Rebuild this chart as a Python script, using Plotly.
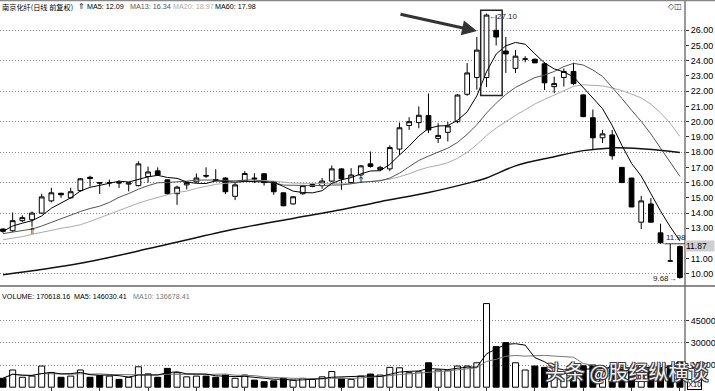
import plotly.graph_objects as go
import pandas as pd

# ---------------- data ----------------
opens = [12.95, 12.84, 13.5, 13.56, 14.0, 14.8, 15.3, 15.0, 15.47, 16.35,
         16.0, 15.98, 16.0, 15.9, 15.8, 16.4, 16.77, 16.18, 15.27, 15.85,
         16.05, 16.47, 16.2, 16.3, 15.1, 16.1, 16.3, 16.58, 16.05, 15.33,
         14.6, 15.27, 15.75, 15.8, 16.1, 16.9, 16.0, 16.5, 17.23, 16.85,
         16.9, 18.2, 19.75, 19.94, 20.4, 18.9, 19.3, 20.0, 21.8, 22.9,
         22.9, 26.0, 24.64, 23.5, 24.1, 24.1, 23.8, 22.3, 22.9, 23.3,
         21.76, 20.26, 18.94, 19.13, 17.0, 16.3, 13.4, 14.6, 12.7, 10.86, 11.8]
closes = [12.8, 13.5, 13.7, 14.0, 15.06, 15.33, 15.2, 15.4, 16.25, 16.27,
          15.97, 16.0, 15.98, 15.98, 17.23, 16.7, 16.5, 15.27, 15.7, 16.0,
          16.3, 16.43, 16.15, 15.4, 15.85, 16.6, 16.25, 16.0, 15.4, 14.48,
          15.07, 15.8, 15.88, 16.1, 16.9, 16.25, 16.5, 17.1, 17.06, 17.0,
          18.3, 19.6, 20.0, 20.42, 19.46, 19.1, 19.72, 21.75, 23.2, 24.7,
          27.0, 25.56, 24.45, 24.3, 24.12, 23.86, 22.55, 22.5, 23.3, 22.5,
          20.33, 18.94, 19.2, 17.76, 16.0, 14.4, 14.8, 13.4, 12.05, 10.85, 9.77]
highs = [13.0, 14.04, 13.85, 14.1, 15.27, 15.66, 15.33, 15.66, 16.3, 16.45,
         16.02, 16.2, 16.15, 16.0, 17.4, 17.05, 17.0, 16.2, 15.8, 16.05,
         16.6, 17.0, 16.88, 16.35, 16.0, 16.75, 16.62, 16.6, 16.05, 15.35,
         15.1, 15.85, 15.95, 16.3, 17.12, 16.95, 16.95, 17.15, 18.04, 17.1,
         18.45, 19.94, 20.29, 21.0, 21.85, 19.9, 19.98, 21.8, 23.85, 25.56,
         27.1, 27.0, 25.56, 24.7, 24.3, 24.15, 23.9, 22.96, 23.5, 23.87,
         21.8, 20.8, 19.46, 19.46, 17.0, 16.3, 15.13, 14.98, 13.3, 11.98, 11.87]
lows = [12.7, 12.75, 13.4, 13.1, 13.95, 14.7, 15.0, 14.95, 15.4, 15.74,
        15.25, 15.74, 15.65, 15.42, 15.75, 16.0, 16.45, 15.2, 14.54, 15.55,
        16.0, 16.3, 16.07, 15.25, 14.85, 16.05, 15.97, 15.8, 15.2, 14.45,
        14.55, 15.2, 15.7, 15.6, 16.05, 15.53, 15.95, 16.4, 16.98, 16.75,
        16.75, 17.82, 19.46, 19.57, 19.25, 18.6, 18.7, 19.9, 21.7, 22.1,
        22.27, 25.0, 23.2, 23.2, 23.9, 23.85, 22.08, 21.87, 22.3, 22.4,
        20.3, 18.15, 18.6, 17.5, 16.0, 14.4, 12.95, 13.4, 12.0, 10.84, 9.68]
volumes = [6000, 11600, 6700, 7500, 14300, 9800, 6700, 7500, 11600, 6700,
           7800, 7500, 5300, 6700, 13800, 9000, 6700, 12700, 9800, 7000,
           7500, 7500, 6700, 8200, 6000, 8200, 4800, 3700, 4300, 6000,
           4800, 6000, 5300, 7000, 10600, 6000, 5300, 7500, 8900, 8200,
           13400, 13100, 9800, 10400, 16500, 11600, 11100, 14300, 14300, 16500,
           56500, 27400, 30100, 16500, 11600, 14300, 13400, 9800, 9300, 13500,
           14500, 15000, 10500, 14000, 12000, 12163, 15500, 13500, 12500, 14453, 17062]

# moving-average values that depend on bars before the visible window
ma13_head = [12.65, 12.75, 12.85, 12.95, 13.15, 13.4, 13.6, 13.85, 14.1, 14.3, 14.45, 14.7]
ma20_head = [12.25, 12.35, 12.45, 12.6, 12.75, 12.9, 13.0, 13.1, 13.23, 13.45,
             13.7, 13.95, 14.2, 14.45, 14.65, 14.85, 15.05, 15.2, 15.35]
ma60_idx = [0, 8, 16, 24, 30, 34, 39, 44, 48, 50, 53, 57, 60, 63, 66, 70]
ma60_val = [9.95, 10.7, 11.8, 12.95, 13.65, 14.1, 14.75, 15.35, 15.95, 16.3,
            17.1, 17.7, 18.1, 18.28, 18.22, 17.98]

price_ticks = list(range(10, 27))
hidden_tick = 12          # covered by the last-price tag in the reference
grid_ticks = list(range(10, 27, 2))
vol_ticks = [15000, 30000, 45000]
signal_idx = [3, 37]

title_name = "南京化纤(日线 前复权)"
title_ma = ["MA5: 12.09", "MA13: 16.34", "MA20: 18.97", "MA60: 17.98"]
vol_header = ["VOLUME: 170618.16", "MA5: 146030.41", "MA10: 136678.41"]
watermark = "头条 @股经纵横谈"

# ---------------- derived series ----------------
n = len(closes)
idx = list(range(n))
s = pd.Series(closes)
ma5 = s.rolling(5, min_periods=1).mean().tolist()
ma13 = ma13_head + s.rolling(13).mean().tolist()[len(ma13_head):]
ma20 = ma20_head + s.rolling(20).mean().tolist()[len(ma20_head):]
v = pd.Series(volumes)
vma5 = v.rolling(5, min_periods=1).mean().tolist()
vma10 = v.rolling(10, min_periods=1).mean().tolist()
vol_fill = ['white' if c >= o else 'black' for o, c in zip(opens, closes)]

# ---------------- layout geometry (pixels) ----------------
W, H = 715, 391
PR = 685            # right edge of plot area
PX_PER = 15.23      # px per price unit
Y26 = 30.3          # pixel row of 26.00


def price_at(py):
    return 26 - (py - Y26) / PX_PER


VZ = 387.2          # pixel row of volume 0
VPX = 22.2 / 15000  # px per volume unit


def vol_at(py):
    return (VZ - py) / VPX


def fx(px):
    return px / PR


def fy(py):
    return 1 - py / H


P_TOP, P_BOT = 1, 285
V_TOP, V_BOT = 287, 391
FONT = "Liberation Sans, Arial, sans-serif"
CJK = "Noto Sans CJK SC, sans-serif"
GRID = '1px,2px'

fig = go.Figure()

fig.add_trace(go.Candlestick(
    x=idx, open=opens, high=highs, low=lows, close=closes,
    increasing=dict(line=dict(color='black', width=1), fillcolor='white'),
    decreasing=dict(line=dict(color='black', width=1), fillcolor='black'),
    whiskerwidth=0, xaxis='x', yaxis='y', showlegend=False, hoverinfo='skip'))

fig.add_trace(go.Scatter(x=idx, y=ma20, mode='lines', line=dict(color='#ababab', width=1),
                         xaxis='x', yaxis='y3', showlegend=False, hoverinfo='skip'))
fig.add_trace(go.Scatter(x=idx, y=ma13, mode='lines', line=dict(color='#555555', width=1),
                         xaxis='x', yaxis='y3', showlegend=False, hoverinfo='skip'))
fig.add_trace(go.Scatter(x=ma60_idx, y=ma60_val, mode='lines', line=dict(color='#111111', width=1.5, shape='spline'),
                         xaxis='x', yaxis='y3', showlegend=False, hoverinfo='skip'))
fig.add_trace(go.Scatter(x=idx, y=ma5, mode='lines', line=dict(color='#000000', width=1),
                         xaxis='x', yaxis='y3', showlegend=False, hoverinfo='skip'))
fig.add_trace(go.Scatter(x=signal_idx, y=[lows[i] for i in signal_idx], mode='text', text=['⇑'] * len(signal_idx),
                         textposition='bottom center', textfont=dict(size=9, color='black', family='DejaVu Sans'),
                         xaxis='x', yaxis='y3', showlegend=False, hoverinfo='skip'))

fig.add_trace(go.Bar(x=idx, y=volumes, width=0.62, marker=dict(color=vol_fill, line=dict(color='black', width=1)),
                     xaxis='x2', yaxis='y2', showlegend=False, hoverinfo='skip'))
fig.add_trace(go.Scatter(x=idx, y=vma10, mode='lines', line=dict(color='#777777', width=1),
                         xaxis='x2', yaxis='y2', showlegend=False, hoverinfo='skip'))
fig.add_trace(go.Scatter(x=idx, y=vma5, mode='lines', line=dict(color='#000000', width=1),
                         xaxis='x2', yaxis='y2', showlegend=False, hoverinfo='skip'))

x_rng = [-3 / 9.67, (PR - 3) / 9.67]
p_rng = [price_at(P_BOT), price_at(P_TOP)]
v_rng = [vol_at(V_BOT), vol_at(V_TOP)]

tickfont = dict(family=FONT, size=9, color='black')
fig.update_layout(
    template='none',
    width=W, height=H, margin=dict(l=0, r=W - PR, t=0, b=0, pad=0),
    paper_bgcolor='white', plot_bgcolor='white', showlegend=False,
    xaxis=dict(domain=[0, 1], range=x_rng, anchor='y', showticklabels=False, ticks='', showgrid=False,
               zeroline=False, showline=False, rangeslider=dict(visible=False), automargin=False),
    yaxis=dict(domain=[fy(P_BOT), fy(P_TOP)], range=p_rng, anchor='x', side='right',
               tickvals=price_ticks,
               ticktext=['' if t == hidden_tick else '%.2f' % t for t in price_ticks],
               ticks='outside', ticklen=3, tickcolor='#333', showgrid=False, zeroline=False, showline=False,
               tickfont=tickfont, automargin=False),
    yaxis3=dict(overlaying='y', anchor='x', side='right', range=p_rng, tickvals=grid_ticks,
                showticklabels=False, ticks='', showgrid=True, gridcolor='#8a8a8a', griddash=GRID,
                gridwidth=1, zeroline=False, showline=False, automargin=False),
    xaxis2=dict(domain=[0, 1], range=x_rng, anchor='y2', showticklabels=False, ticks='inside', ticklen=3,
                tickvals=list(range(5, n, 5)), tickcolor='#333', showgrid=False, zeroline=False,
                showline=False, automargin=False),
    yaxis2=dict(domain=[fy(V_BOT), fy(V_TOP)], range=v_rng, anchor='x2', side='right',
                tickvals=vol_ticks, ticktext=[str(t) for t in vol_ticks], ticks='outside', ticklen=3,
                tickcolor='#333', showgrid=True, gridcolor='#8a8a8a', griddash=GRID, zeroline=False,
                showline=False, tickfont=tickfont, automargin=False),
)

shapes = [
    dict(type='line', xref='paper', yref='paper', x0=1, x1=1, y0=0, y1=1, line=dict(color='#333', width=1)),
    dict(type='line', xref='paper', yref='paper', x0=0, x1=W / PR, y0=fy(286), y1=fy(286),
         line=dict(color='#666', width=1.5)),
    dict(type='line', xref='paper', yref='paper', x0=0, x1=W / PR, y0=fy(0.5), y1=fy(0.5),
         line=dict(color='#888', width=1.5)),
    dict(type='rect', xref='x', yref='y', x0=50 - 0.6, x1=51 + 0.62,
         y0=min(lows[50:52]) - 0.55, y1=max(highs[50:52]) + 0.22, line=dict(color='#222', width=1.5)),
]
fig.update_layout(shapes=shapes)

ann = []
HF = 7.2
ann.append(dict(xref='paper', yref='paper', x=fx(0), y=fy(7), xanchor='left', yanchor='middle',
                text=title_name, showarrow=False, font=dict(family=CJK, size=7.2, color='black')))
ann.append(dict(xref='paper', yref='paper', x=fx(76), y=fy(6), xanchor='left', yanchor='middle',
                text='⇑', showarrow=False, font=dict(family='DejaVu Sans', size=8, color='black')))
ma_cols = ['#000000', '#555555', '#ababab', '#000000']
ma_x = [85, 128, 171, 213]
for t, c, xx in zip(title_ma, ma_cols, ma_x):
    ann.append(dict(xref='paper', yref='paper', x=fx(xx), y=fy(7), xanchor='left', yanchor='middle',
                    text=t, showarrow=False, font=dict(family=FONT, size=HF, color=c)))
for t, c, xx in zip(vol_header, ['#000', '#000', '#777'], [0, 72, 131]):
    ann.append(dict(xref='paper', yref='paper', x=fx(xx), y=fy(296), xanchor='left', yanchor='middle',
                    text=t, showarrow=False, font=dict(family=FONT, size=HF, color=c)))

# high / low markers
imax = max(range(n), key=lambda i: highs[i])
imin = min(range(n), key=lambda i: lows[i])
ann.append(dict(xref='x', yref='y', x=imax, y=highs[imax], xanchor='left', yanchor='middle', xshift=0, yshift=-3,
                text='←%.2f' % highs[imax], showarrow=False, font=dict(family=FONT, size=8, color='#222')))
ann.append(dict(xref='x', yref='y', x=imin, y=lows[imin], xanchor='right', yanchor='middle', xshift=-1,
                text='%.2f→' % lows[imin], showarrow=False, font=dict(family=FONT, size=8, color='#222')))
ann.append(dict(xref='x', yref='y', x=n - 2, y=highs[n - 2], xanchor='left', yanchor='bottom', xshift=-6,
                text='%.2f' % highs[n - 2], showarrow=False, font=dict(family=FONT, size=8, color='#222')))
fig.add_shape(type='line', xref='x', yref='y', x0=n - 2 - 0.6, x1=n - 1 + 0.5, y0=highs[n - 2], y1=highs[n - 2],
              line=dict(color='#444', width=1))
# last price tag on axis
ann.append(dict(xref='paper', yref='y', x=1, y=highs[-1], xanchor='left', yanchor='middle',
                text='%.2f   ' % highs[-1], showarrow=False, bgcolor='#cfcfcf', borderpad=0,
                font=dict(family=FONT, size=8.5, color='black')))
ann.append(dict(xref='paper', yref='paper', x=fx(687), y=fy(390), xanchor='left', yanchor='bottom',
                text='X10', showarrow=False, bordercolor='black', borderwidth=1, borderpad=0, bgcolor='white',
                font=dict(family=FONT, size=7.5, color='black')))
ann.append(dict(xref='paper', yref='paper', x=fx(684), y=fy(6), xanchor='right', yanchor='middle',
                text='◇◫', showarrow=False, font=dict(family='DejaVu Sans', size=8, color='#333')))
# pointing arrow
ann.append(dict(xref='paper', yref='paper', x=fx(477), y=fy(31), ax=-78, ay=-17, axref='pixel', ayref='pixel',
                showarrow=True, arrowhead=2, arrowsize=1, arrowwidth=3, arrowcolor='#333', text=''))
# watermark: white text with a dark outline
outline = ('-1px -1px 0 #3c3c3c, 1px -1px 0 #3c3c3c, -1px 1px 0 #3c3c3c, '
           '1px 1px 0 #3c3c3c, 0 1px 0 #3c3c3c, 1px 0 0 #3c3c3c')
ann.append(dict(xref='paper', yref='paper', x=fx(626), y=fy(371), xanchor='center', yanchor='middle',
                text=watermark, showarrow=False,
                font=dict(family=CJK, size=20, color='rgba(255,255,255,0.95)', shadow=outline)))
fig.update_layout(annotations=ann)

fig.write_html("out.html", config={'displayModeBar': False},
               post_script="document.body.style.margin='0px';")
